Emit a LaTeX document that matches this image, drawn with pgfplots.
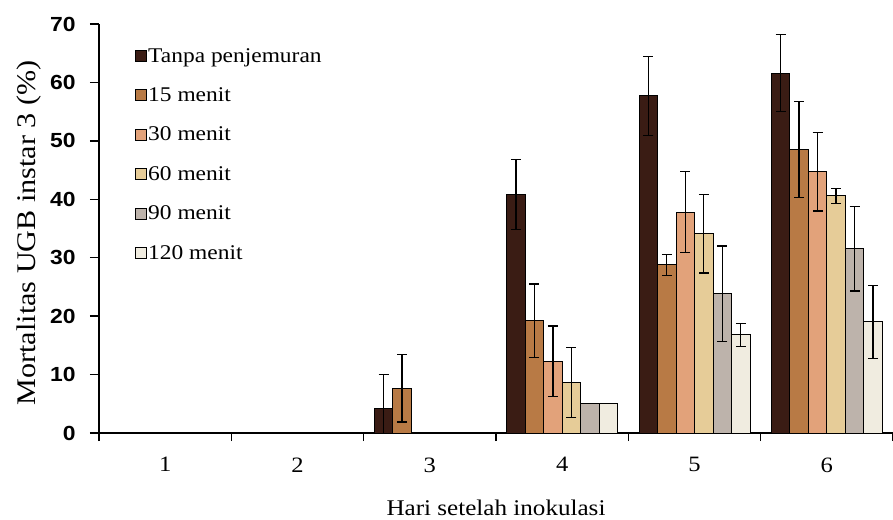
\documentclass[border=0pt]{standalone}
\usepackage{pgfplots}
\pgfplotsset{compat=1.18}
\usepackage{fontspec}
\setmainfont{Liberation Serif}[FakeStretch=1.12]
\newfontfamily\ticksans{Liberation Sans}[FakeStretch=1.12]
\definecolor{c0}{HTML}{3A1C14}
\definecolor{c1}{HTML}{B87A45}
\definecolor{c2}{HTML}{E2A27A}
\definecolor{c3}{HTML}{E6CC98}
\definecolor{c4}{HTML}{BDB3AB}
\definecolor{c5}{HTML}{F0ECE0}
\pgfplotsset{
  errb/.style={draw=black, line width=1bp,
    error bars/.cd, y dir=both, y explicit,
    error bar style={line width=1.2bp, black},
    error mark options={rotate=90, mark size=5bp, line width=1.2bp, black}},
}
\begin{document}
\begin{tikzpicture}
\begin{axis}[
  width=794bp, height=409bp, scale only axis,
  xmin=0.5, xmax=6.5, ymin=0, ymax=70,
  axis lines=left, axis line style={-, line width=1.8bp},
  ybar=0pt, bar width=18.5bp,
  xtick={1,...,6},
  major x tick style={draw=none},
  minor xtick={0.5,1.5,...,6.5},
  minor tick length=8bp,
  major tick length=9bp,
  tick style={line width=1.5bp, black},
  ytick={0,10,...,70},
  tick align=outside,
  /pgf/number format/assume math mode=true,
  yticklabel style={font=\ticksans\bfseries\fontsize{20.5}{22}\selectfont, xshift=-11bp},
  xticklabel style={font=\fontsize{22}{24}\selectfont, yshift=-12bp},
  xlabel={Hari setelah inokulasi},
  ylabel={Mortalitas UGB instar 3 (\%)},
  xlabel style={font=\fontsize{22.5}{24}\selectfont, at={(axis description cs:0.5,-0.1834)}, anchor=center},
  ylabel style={font=\fontsize{27}{29}\selectfont, at={(axis description cs:-0.088,0.489)}, anchor=center},
  legend style={at={(axis description cs:0.045,0.945)}, anchor=north west,
    draw=none, fill=none, font=\fontsize{21}{23}\selectfont,
    row sep=21bp, inner sep=0pt, cells={anchor=west},
    nodes={inner sep=1.5bp}},
  legend image code/.code={\draw[#1, draw=black, line width=0.8bp] (0bp,-5.5bp) rectangle (11bp,5.5bp);},
]
\addplot[fill=c0, errb] coordinates {(3,4.2) +- (0,5.8) (4,40.8) +- (0,6.0) (5,57.7) +- (0,6.8) (6,61.6) +- (0,6.6)};
\addplot[fill=c1, errb] coordinates {(3,7.7) +- (0,5.8) (4,19.2) +- (0,6.3) (5,28.8) +- (0,1.8) (6,48.5) +- (0,8.2)};
\addplot[fill=c2, errb] coordinates {(4,12.3) +- (0,6.0) (5,37.8) +- (0,6.9) (6,44.7) +- (0,6.7)};
\addplot[fill=c3, errb] coordinates {(4,8.7) +- (0,6.0) (5,34.1) +- (0,6.7) (6,40.6) +- (0,1.3)};
\addplot[fill=c4, errb] coordinates {(4,5.1) +- (0,0) (5,23.8) +- (0,8.2) (6,31.5) +- (0,7.2)};
\addplot[fill=c5, errb] coordinates {(4,5.1) +- (0,0) (5,16.8) +- (0,2.0) (6,19.0) +- (0,6.3)};
\legend{Tanpa penjemuran, 15 menit, 30 menit, 60 menit, 90 menit, 120 menit}
\end{axis}
\pgfresetboundingbox
\path ([shift={(-99bp,-87bp)}]current axis.south west) rectangle ([shift={(794bp,433bp)}]current axis.south west);
\end{tikzpicture}
\end{document}
